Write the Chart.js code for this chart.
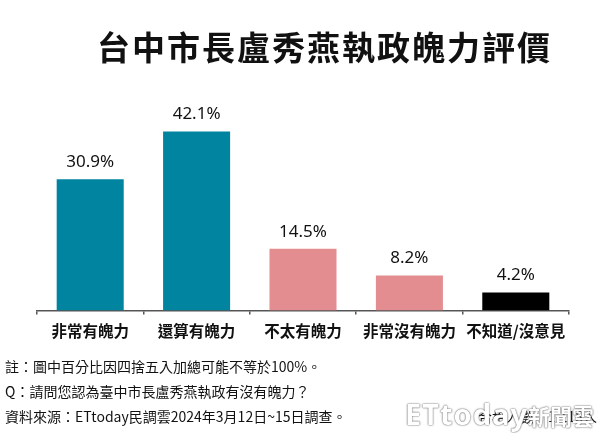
<!DOCTYPE html>
<html>
<head>
<meta charset="utf-8">
<script src="https://cdn.jsdelivr.net/npm/chart.js@4.4.1/dist/chart.umd.min.js"></script>
<style>
  body { margin: 0; background: #fff; }
  #wrap { position: relative; width: 600px; height: 433px; overflow: hidden; }
  #title { position: absolute; left: 97px; top: 22px; white-space: nowrap;
    font: bold 33px "Noto Sans CJK TC", sans-serif; color: #111; letter-spacing: 2px; }
  .note { position: absolute; left: 5px; font: 14px "Noto Sans CJK TC", sans-serif; color: #111; white-space: nowrap; }
  #sample { position: absolute; right: 3px; top: 406px; font: 14px "Noto Sans CJK TC", sans-serif; color: #111; }
  #mark { position: absolute; right: 6px; top: 394px; color: #fff; font-family: "Noto Sans", "Noto Sans CJK TC", sans-serif;
    text-shadow: 0 0 2px #666, 0 0 1px #666; white-space: nowrap; }
  #mark b { font-size: 29px; letter-spacing: 1px; }
  #mark span { font-size: 22px; font-weight: bold; }
</style>
</head>
<body>
<div id="wrap">
  <canvas id="chart" width="600" height="433"></canvas>
  <div id="title">台中市長盧秀燕執政魄力評價</div>
  <div class="note" style="top:356px">註：圖中百分比因四捨五入加總可能不等於100%。</div>
  <div class="note" style="top:381px">Q：請問您認為臺中市長盧秀燕執政有沒有魄力？</div>
  <div class="note" style="top:406px">資料來源：ETtoday民調雲2024年3月12日~15日調查。</div>
  <div id="sample">合格人數：1,118人</div>
  <div id="mark"><b>ETtoday</b><span>新聞雲</span></div>
</div>
<script>
const categories = ['非常有魄力', '還算有魄力', '不太有魄力', '非常沒有魄力', '不知道/沒意見'];
const values = [30.9, 42.1, 14.5, 8.2, 4.2];
const barColors = ['#00849f', '#00849f', '#e38d90', '#e38d90', '#000000'];

const valueLabels = {
  id: 'valueLabels',
  afterDatasetsDraw(chart) {
    const ctx = chart.ctx;
    const meta = chart.getDatasetMeta(0);
    ctx.save();
    ctx.font = '17px "Noto Sans", "Noto Sans CJK TC", sans-serif';
    ctx.fillStyle = '#111';
    ctx.textAlign = 'center';
    ctx.textBaseline = 'middle';
    meta.data.forEach((bar, i) => {
      ctx.fillText(values[i].toFixed(1) + '%', bar.x, bar.y - 17);
    });
    ctx.restore();
  }
};

new Chart(document.getElementById('chart'), {
  type: 'bar',
  data: {
    labels: categories,
    datasets: [{
      data: values,
      backgroundColor: barColors,
      categoryPercentage: 1,
      barPercentage: 0.63
    }]
  },
  options: {
    responsive: false,
    animation: false,
    layout: { padding: { top: 98, left: 37, right: 31, bottom: 86 } },
    plugins: { legend: { display: false }, tooltip: { enabled: false } },
    scales: {
      x: {
        grid: { offset: true, drawOnChartArea: false, tickLength: 4, color: '#555', lineWidth: 1.5 },
        border: { color: '#555', width: 1.5 },
        ticks: { color: '#111', padding: 7, maxRotation: 0, minRotation: 0, autoSkip: false,
          font: { size: 15.5, weight: 'bold', family: '"Noto Sans CJK TC", sans-serif' } }
      },
      y: { display: false, min: 0, max: 50 }
    }
  },
  plugins: [valueLabels]
});
</script>
</body>
</html>
